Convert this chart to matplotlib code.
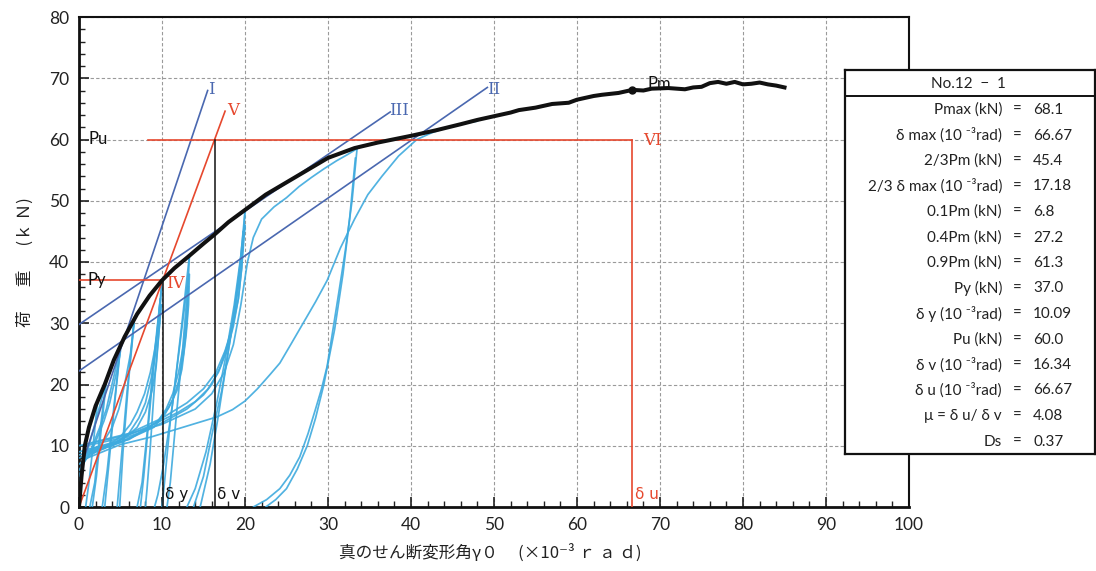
import matplotlib
matplotlib.use("Agg")
import matplotlib.pyplot as plt
from matplotlib.ticker import MultipleLocator

plt.rcParams['font.family'] = ['Lato', 'DejaVu Sans']

# ---------------- data ----------------
# skeleton (envelope) curve: shear deformation angle (x10^-3 rad) vs load (kN)
env_x = [0, 0.3, 0.7, 1.2, 2.0, 3.1, 4.2, 5.5, 7.0, 8.5, 10.0, 11.5, 13.1, 15.0,
         16.34, 18.0, 20.0, 22.5, 25.0, 27.5, 30.0, 33.2, 36.0, 40.0, 43.0, 46.0,
         48.0, 50.0, 52.0, 53.0, 55.0, 57.0, 59.0, 60.0, 62.0, 63.0, 65.0, 66.67,
         68.0, 69.0, 71.0, 73.0, 74.0, 75.0, 76.0, 77.0, 78.0, 79.0, 80.0, 81.0,
         82.0, 83.0, 84.0, 85.0]
env_y = [0, 5.0, 10.0, 13.0, 16.5, 20.0, 24.0, 27.8, 31.5, 34.5, 37.0, 39.0, 40.8,
         43.0, 44.5, 46.5, 48.5, 51.0, 53.0, 55.0, 57.0, 58.6, 59.5, 60.6, 61.5,
         62.5, 63.2, 63.8, 64.4, 64.8, 65.2, 65.8, 66.0, 66.5, 67.1, 67.3, 67.6,
         68.1, 68.0, 68.3, 68.4, 68.2, 68.5, 68.6, 69.2, 69.4, 69.1, 69.4, 69.0,
         69.1, 69.3, 69.0, 68.8, 68.5]

# hysteresis branches, grouped by cycle amplitude: (x list, y list)
loops_2 = [([0.0, 0.4, 0.9, 1.5, 2.2], [3, 7, 11, 14.5, 16.8]),
           ([2.2, 1.7, 1.2, 0.8], [16.8, 10, 4, 0])]
loops_3 = [([0.0, 0.8, 1.6, 2.5, 3.3], [5, 8, 12, 16.5, 20.5]),
           ([3.3, 2.7, 2.1, 1.6], [20.5, 13, 5, 0]),
           ([3.2, 2.5, 1.9, 1.3], [20, 12, 4, 0])]
loops_5 = [([0.0, 1.2, 2.5, 3.3, 3.8, 4.4, 5.0], [6, 8.5, 13, 16, 19, 22.5, 26]),
           ([0.3, 1.5, 3.0, 3.7, 4.2, 4.6, 5.0], [7, 9, 14, 17, 20, 22.5, 25.5]),
           ([5.0, 4.3, 3.6, 3.1], [26, 17, 7, 0]),
           ([4.9, 4.1, 3.4, 2.8], [25, 15, 6, 0])]
loops_7 = [([0.0, 2.0, 3.0, 4.0, 4.8, 5.5, 6.2, 6.7], [7, 9, 10.8, 13, 16, 20, 25, 31]),
           ([6.7, 6.0, 5.3, 4.9], [31, 21, 9, 0]),
           ([6.6, 5.8, 5.1, 4.6], [30, 19, 8, 0])]
loops_10 = [([0.0, 2.5, 5.0, 6.2, 7.0, 7.9, 8.6, 9.1, 9.5, 9.8, 10.0],
             [8, 9.2, 11.5, 13.5, 15.5, 18.5, 22, 25.5, 29, 33, 37]),
            ([0.5, 3.0, 5.0, 6.0, 7.2, 8.0, 8.7, 9.2, 9.8],
             [8.5, 9.5, 11, 12, 14.5, 17, 21, 25, 34]),
            ([1.0, 4.0, 6.0, 7.0, 8.0, 8.8, 9.3, 9.6, 9.9],
             [9, 10, 11.8, 13, 15.5, 19, 23, 28, 33]),
            ([10.0, 9.3, 8.4, 7.8, 7.4], [37, 27, 14, 5, 0]),
            ([9.8, 9.0, 8.2, 7.6, 7.0], [34, 24, 12, 4, 0]),
            ([9.9, 9.2, 8.6, 8.2, 8.0], [33, 22, 10, 3, 0])]
loops_13 = [([0.0, 4.0, 8.0, 9.5, 10.5, 11.3, 12.0, 12.6, 13.0, 13.3],
             [8.5, 10, 12.5, 14, 16, 18.5, 22, 26.5, 32, 41]),
            ([0.5, 5.0, 9.0, 10.3, 11.3, 12.0, 12.6, 13.0, 13.2],
             [9, 10.5, 13, 15, 17.5, 20.5, 25, 30, 36]),
            ([1.5, 6.0, 9.5, 10.8, 11.8, 12.4, 12.9, 13.2, 13.3],
             [9.5, 11, 14, 16.2, 19, 22.5, 28, 33, 38]),
            ([13.3, 12.4, 11.3, 10.2, 9.5, 9.1], [41, 30, 17, 7, 2, 0]),
            ([13.2, 12.2, 11.0, 10.3, 10.0], [38, 27, 14, 4, 0]),
            ([13.1, 12.5, 11.6, 11.0, 10.6], [36, 26, 13, 4, 0])]
loops_20 = [([0.0, 4.0, 8.0, 10.09, 13.0, 15.0, 16.0, 17.0, 18.0, 18.8, 19.3, 19.7, 20.0],
             [9, 10.5, 12.5, 13.8, 16, 18.3, 20, 22.8, 27, 32, 37, 42, 48.3]),
            ([0.8, 5.0, 9.0, 12.0, 14.0, 15.5, 16.8, 17.8, 18.6, 19.2, 19.6, 19.8],
             [10, 11.2, 13.5, 15.5, 17.2, 19.2, 22, 25.5, 29.5, 34, 39, 45]),
            ([1.5, 6.0, 10.0, 13.0, 15.0, 16.5, 17.6, 18.5, 19.2, 19.6, 20.0],
             [10.5, 12, 14.5, 17, 19.3, 22, 25.5, 29.5, 34, 39, 46]),
            ([20.0, 19.5, 18.7, 17.6, 16.6, 15.3, 14.0, 13.0],
             [48.3, 41, 33, 24, 17, 9, 3, 0]),
            ([19.8, 19.2, 18.3, 17.2, 16.2, 15.0, 13.8],
             [45, 37, 28, 19, 13, 5, 0]),
            ([20.0, 19.3, 18.5, 17.6, 16.8, 15.8, 14.6],
             [46, 38, 30, 22, 15, 7, 0])]
loops_33 = [([0.0, 5.0, 10.0, 14.0, 16.0, 17.5, 18.6, 19.5, 20.3, 21.0, 22.0, 23.5,
              25.0, 26.5, 28.0, 29.5, 31.0, 32.3, 33.5],
             [10, 11.5, 13.5, 16, 18.5, 22, 26.5, 33, 40, 44, 47, 49, 50.5, 52.3, 53.8,
              55.2, 56.5, 57.5, 58.5]),
            ([33.5, 32.9, 32.1, 31.3, 30.6, 29.9, 29.2, 28.5, 27.6, 26.6, 25.4, 24.2,
              22.6, 21.0],
             [58.5, 50, 42, 35, 29, 23, 19.2, 16, 12, 8.2, 5.2, 3, 1.2, 0]),
            ([33.3, 32.6, 31.8, 30.8, 29.5, 28.5, 27.5, 26.3, 25.0, 23.7, 22.5],
             [57, 47, 38, 29, 20, 14.5, 10, 6.2, 3, 1.2, 0])]
final_push = ([1.0, 5.0, 8.6, 12.0, 16.6, 18.5, 20.0, 21.5, 23.0, 24.2, 25.5, 27.0,
               28.5, 29.9, 31.5, 33.2, 34.8, 36.5, 38.5, 40.7, 42.5, 44.0, 46.0, 48.0],
              [8, 10.2, 11.4, 12.8, 14.7, 15.9, 17.3, 19.3, 21.6, 23.5, 26.5, 30,
               33.5, 37, 42.3, 47, 51, 54, 57.3, 60, 61.1, 61.8, 62.5, 63])

# evaluation results
p_max, d_max = 68.1, 66.67
p_y, d_y = 37.0, 10.09
p_u, d_v, d_u = 60.0, 16.34, 66.67

# evaluation lines: endpoints (x, y)
line1_x, line1_y = [0.3, 15.5], [6.8, 68.0]
line2_x, line2_y = [0.0, 49.2], [22.2, 68.5]
line3_x, line3_y = [0.0, 37.5], [29.8, 64.5]
line5_x = [0.0, 17.6]

table_labels = ["Pmax (kN)", "δ max (10 ⁻³rad)", "2/3Pm (kN)", "2/3 δ max (10 ⁻³rad)",
                "0.1Pm (kN)", "0.4Pm (kN)", "0.9Pm (kN)", "Py (kN)", "δ y (10 ⁻³rad)",
                "Pu (kN)", "δ v (10 ⁻³rad)", "δ u (10 ⁻³rad)", "μ = δ u/ δ v", "Ds"]
table_values = ["68.1", "66.67", "45.4", "17.18", "6.8", "27.2", "61.3", "37.0",
                "10.09", "60.0", "16.34", "66.67", "4.08", "0.37"]

# ---------------- figure ----------------
W, H = 1096, 571
fig = plt.figure(figsize=(W / 100, H / 100), dpi=100)
ax = fig.add_axes([79 / W, 1 - 507 / H, 830 / W, 490 / H])
ax.set_xlim(0, 100)
ax.set_ylim(0, 80)

ax.xaxis.set_major_locator(MultipleLocator(10))
ax.xaxis.set_minor_locator(MultipleLocator(2))
ax.yaxis.set_major_locator(MultipleLocator(10))
ax.yaxis.set_minor_locator(MultipleLocator(2))
ax.tick_params(which='major', direction='in', length=7, width=1.2, labelsize=12.5,
               colors='#222222', pad=7)
ax.tick_params(which='minor', direction='in', length=4, width=1.0, colors='#222222')
ax.grid(True, which='major', color='#9a9a9a', linestyle=(0, (3, 2)), linewidth=0.8)
for side, sp in ax.spines.items():
    sp.set_color('#111111')
    sp.set_linewidth(2.0 if side in ('left', 'bottom') else 1.5)

cyan = '#3eaade'
for group in (loops_2, loops_3, loops_5, loops_7, loops_10, loops_13, loops_20, loops_33):
    for xs, ys in group:
        ax.plot(xs, ys, color=cyan, lw=1.25, alpha=0.9, zorder=3,
                solid_joinstyle='round', solid_capstyle='round')
ax.plot(final_push[0], final_push[1], color=cyan, lw=1.25, alpha=0.9, zorder=3,
        solid_joinstyle='round')

blue = '#4a68b0'
red = '#e6482e'
ax.plot(line1_x, line1_y, color=blue, lw=1.2, zorder=4)
ax.plot(line2_x, line2_y, color=blue, lw=1.2, zorder=4)
ax.plot(line3_x, line3_y, color=blue, lw=1.2, zorder=4)
ax.plot(line5_x, [0, line5_x[1] * p_u / d_v], color=red, lw=1.2, zorder=4)
ax.plot([0, d_y], [p_y, p_y], color=red, lw=1.2, zorder=4)
ax.plot([8.3, d_u], [p_u, p_u], color=red, lw=1.2, zorder=4)
ax.plot([d_u, d_u], [0, p_u], color=red, lw=1.2, zorder=4)
ax.plot([d_y, d_y], [0, p_y], color='#111111', lw=1.1, zorder=4)
ax.plot([d_v, d_v], [0, p_u], color='#111111', lw=1.1, zorder=4)

ax.plot(env_x, env_y, color='#111111', lw=2.9, zorder=5, solid_joinstyle='round')
ax.plot([d_max], [p_max], 'o', color='#111111', ms=5, zorder=6)

roman = dict(family='DejaVu Serif', fontsize=12)
ax.text(15.6, 68.2, "I", color=blue, ha='left', va='center', **roman)
ax.text(49.2, 68.2, "II", color=blue, ha='left', va='center', **roman)
ax.text(37.3, 64.8, "III", color=blue, ha='left', va='center', **roman)
ax.text(17.9, 64.8, "V", color=red, ha='left', va='center', **roman)
ax.text(10.5, 36.5, "IV", color=red, ha='left', va='center', **roman)
ax.text(68.0, 59.8, "VI", color=red, ha='left', va='center', **roman)

ax.text(1.2, 60, "Pu", fontsize=12, ha='left', va='center', color='#111111', zorder=7)
ax.text(1.0, 37, "Py", fontsize=12, ha='left', va='center', color='#111111', zorder=7)
ax.text(68.5, 69.0, "Pm", fontsize=12, ha='left', va='center', color='#111111', zorder=7)
ax.text(d_y + 0.3, 2.0, "δ y", fontsize=11, ha='left', va='center', color='#111111',
        family=['DejaVu Sans'])
ax.text(d_v + 0.3, 2.0, "δ v", fontsize=11, ha='left', va='center', color='#111111',
        family=['DejaVu Sans'])
ax.text(d_u + 0.3, 2.0, "δ u", fontsize=11, ha='left', va='center', color=red,
        family=['DejaVu Sans'])

cjk = ['Noto Sans CJK JP', 'DejaVu Sans']
fig.text(490 / W, 1 - 553 / H, "真のせん断変形角γ０　 (×10⁻³ ｒ ａ ｄ)", fontsize=12,
         ha='center', va='center', family=cjk, color='#222222')
fig.text(25 / W, 1 - 262 / H, "荷　  重　  (ｋ Ｎ)", fontsize=12, rotation=90,
         ha='center', va='center', family=cjk, color='#222222')

# result table
tx0, tx1, ty0, ty1 = 845, 1095, 70, 454
tab = fig.add_axes([tx0 / W, 1 - ty1 / H, (tx1 - tx0) / W, (ty1 - ty0) / H])
tab.set_xlim(tx0, tx1)
tab.set_ylim(ty1, ty0)
tab.set_xticks([])
tab.set_yticks([])
tab.set_facecolor('white')
for sp in tab.spines.values():
    sp.set_linewidth(1.6)
    sp.set_color('#111111')
tab.axhline(96, color='#111111', lw=1.4)
tab.text(968, 84, "No.12  −  1", fontsize=11, ha='center', va='center', color='#222222')
for i, (lab, val) in enumerate(zip(table_labels, table_values)):
    yy = 110 + 25.5 * i
    tab.text(1002, yy, lab, fontsize=11, ha='right', va='center', color='#222222')
    tab.text(1017, yy, "=", fontsize=11, ha='center', va='center', color='#222222')
    tab.text(1033, yy, val, fontsize=11, ha='left', va='center', color='#222222')

fig.savefig("out.png", dpi=100)
